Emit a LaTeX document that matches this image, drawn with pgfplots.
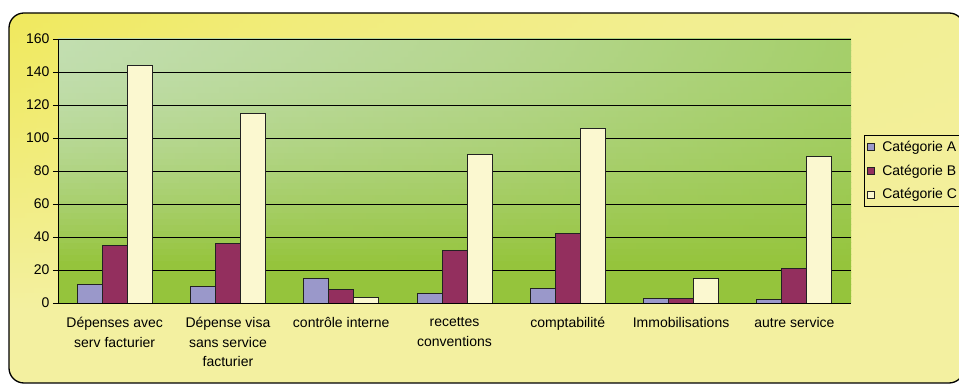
\documentclass[border=0pt]{standalone}
\usepackage{pgfplots}
\pgfplotsset{compat=1.18}
\usepackage{pgfplotstable}
\usepackage{fontspec}
\setmainfont{Liberation Sans}

\definecolor{catA}{HTML}{9A98CA}
\definecolor{catB}{HTML}{932F5E}
\definecolor{catC}{HTML}{FBF8D0}
\definecolor{barline}{HTML}{222222}

% frame colours: saturated yellow (top left) to pale yellow
\definecolor{fy0}{HTML}{ECE436}
\definecolor{fy1}{HTML}{EEE642}
\definecolor{fy2}{HTML}{F1EC7A}
\definecolor{fy3}{HTML}{F2EE90}
\definecolor{fy4}{HTML}{F3F0A0}

% plot area colours: pale green (top left) to grass green
\definecolor{pg0}{HTML}{CDE4C8}
\definecolor{pg1}{HTML}{C2DEB0}
\definecolor{pg2}{HTML}{B5D68E}
\definecolor{pg3}{HTML}{A5CF6A}
\definecolor{pg4}{HTML}{9AC746}
\definecolor{pg5}{HTML}{95C43C}

\pgfplotstableread{
x A B C
0 11 35 144
1 10 36 115
2 15 8 3.5
3 6 32 90
4 9 42 106
5 3 3 15
6 2 21 89
}\datatable

\begin{document}
\begin{tikzpicture}
\path[use as bounding box] (0,0) rectangle (959bp,385bp);
% chart frame: horizontal gradient strips, paler towards the bottom
\begin{scope}
  \clip[rounded corners=15bp] (9bp,2bp) rectangle (964bp,372bp);
  \foreach \i in {0,...,73}{
    \pgfmathsetmacro\h{(\i+0.5)/74}
    \pgfmathsetmacro\p{\h<0.2 ? 100 : 100*pow((1-\h)/0.8,1.2)}
    \colorlet{r0}{fy4!\p!fy0}\colorlet{r1}{fy4!\p!fy1}\colorlet{r2}{fy4!\p!fy2}
    \colorlet{r3}{fy4!\p!fy3}\colorlet{r4}{fy4}
    \pgfdeclarehorizontalshading{fstrip\i}{100bp}{%
      color(0bp)=(r0); color(10bp)=(r1); color(40bp)=(r2); color(60bp)=(r3); color(100bp)=(r4)}
    \shade[shading=fstrip\i] (9bp,2bp+\i*5bp) rectangle (964bp,7.6bp+\i*5bp);
  }
\end{scope}
\draw[black, line width=1.3bp, rounded corners=15bp] (9bp,2bp) rectangle (964bp,372bp);
% plot area: horizontal gradient strips, greener towards the bottom
\begin{scope}
  \clip (58bp,82bp) rectangle (851bp,346bp);
  \foreach \i in {0,...,43}{
    \pgfmathsetmacro\h{(\i+0.5)/44}
    \pgfmathsetmacro\p{\h<0.15 ? 100 : 100*pow((1-\h)/0.85,1.8)}
    \colorlet{q0}{pg5!\p!pg0}\colorlet{q1}{pg5!\p!pg1}\colorlet{q2}{pg5!\p!pg2}
    \colorlet{q3}{pg5!\p!pg3}\colorlet{q4}{pg5!\p!pg4}
    \pgfdeclarehorizontalshading{pstrip\i}{100bp}{%
      color(0bp)=(q0); color(25bp)=(q1); color(53bp)=(q2); color(75bp)=(q3); color(94bp)=(q4); color(100bp)=(q4)}
    \shade[shading=pstrip\i] (58bp,82bp+\i*6bp) rectangle (851bp,88.6bp+\i*6bp);
  }
\end{scope}
\begin{axis}[
  at={(58bp,82bp)}, anchor=south west,
  scale only axis, width=793bp, height=264bp,
  axis x line=bottom, axis y line=left,
  axis line style={-, black, line width=0.9bp},
  xmin=-0.5, xmax=6.5, ymin=0, ymax=160,
  ytick={0,20,...,160},
  xtick={0,...,6},
  xticklabels={{Dépenses avec\\serv facturier},{Dépense visa\\sans service\\facturier},{contrôle interne},{recettes\\conventions},{comptabilité},{Immobilisations},{autre service}},
  xtick style={draw=none},
  minor xtick={-0.5,0.5,...,6.5},
  minor tick length=5bp, major tick length=5bp,
  tick align=outside,
  ytick style={black, line width=0.8bp},
  minor tick style={black, line width=0.8bp},
  ymajorgrids, grid style={black, line width=0.8bp},
  /pgf/number format/assume math mode=true,
  tick label style={font=\fontsize{14bp}{19.5bp}\selectfont},
  xticklabel style={align=center, yshift=-6bp},
  ybar=0pt, bar width=25bp,
  every axis plot/.append style={draw=barline, line width=0.9bp},
  legend style={at={(1,0.636)}, anchor=north west, xshift=13bp,
    fill=none, draw=black, line width=0.8bp,
    font=\fontsize{14bp}{17bp}\selectfont,
    inner xsep=3bp, inner ysep=4bp, row sep=9bp,
    nodes={inner xsep=2bp, inner ysep=1.5bp}},
  legend cell align=left,
  legend image code/.code={\draw[#1, line width=0.8bp] (0bp,-3.5bp) rectangle (7bp,3.5bp); \path (12bp,0bp);},
]
\addplot[fill=catA] table[x=x, y=A] {\datatable};
\addplot[fill=catB] table[x=x, y=B] {\datatable};
\addplot[fill=catC] table[x=x, y=C] {\datatable};
\legend{Catégorie A, Catégorie B, Catégorie C}
\end{axis}
\end{tikzpicture}
\end{document}
